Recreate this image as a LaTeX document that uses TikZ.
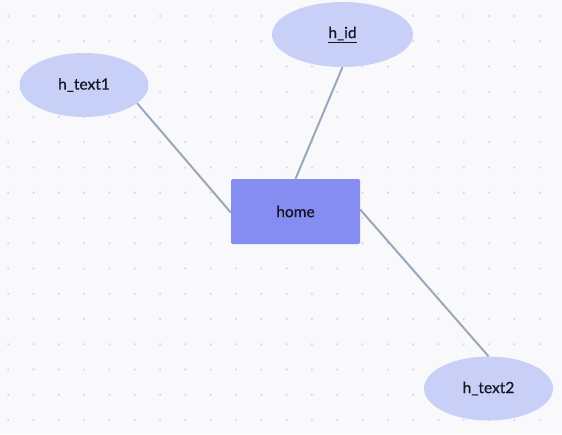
\documentclass[tikz,border=0pt]{standalone}
\usepackage{fontspec}
\setmainfont{Lato}
\newfontfamily\lblfont[FakeBold=0.6]{Lato}
\usetikzlibrary{shapes.geometric}
\definecolor{bgc}{HTML}{F9F9FC}
\definecolor{dotc}{HTML}{D8D8E2}
\definecolor{attrc}{HTML}{C8D0F8}
\definecolor{entc}{HTML}{858EF0}
\definecolor{linec}{HTML}{9AA8BC}
\definecolor{txtc}{HTML}{141422}
\tikzset{
  attr/.style={ellipse, fill=attrc, minimum width=129pt, minimum height=64pt, inner sep=0pt, font=\lblfont\fontsize{15.5}{18}\selectfont, text=txtc},
  entity/.style={rectangle, fill=entc, rounded corners=1.5pt, minimum width=129pt, minimum height=65pt, inner sep=0pt, font=\lblfont\fontsize{15.5}{18}\selectfont, text=txtc},
  conn/.style={draw=linec, line width=2pt}
}
\begin{document}
\begin{tikzpicture}[x=1pt,y=-1pt]
\fill[bgc] (0,0) rectangle (562,434);
\useasboundingbox (0,0) rectangle (562,434);
\foreach \i in {0,...,22}{
  \foreach \j in {0,...,16}{
    \fill[dotc] ({8.3+25.3*\i},{16+25.25*\j}) circle (1.2pt);
  }
}
\node[attr, minimum width=141pt, minimum height=65pt] (hid) at (342.5,34.5) {\underline{h\_id}};
\node[attr] (h1) at (84,85) {h\_text1};
\node[attr] (h2) at (488.5,388.5) {h\_text2};
\node[entity] (home) at (295.5,211.5) {home};
\draw[conn] (hid.south) -- (home.north);
\draw[conn] (h1.-19) -- ([yshift=-1pt]home.west);
\draw[conn] ([yshift=2pt]home.east) -- (h2.north);
\end{tikzpicture}
\end{document}
